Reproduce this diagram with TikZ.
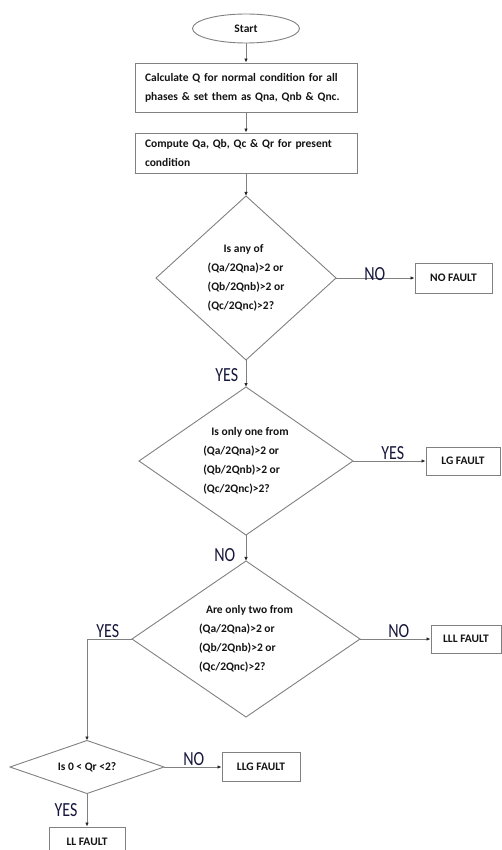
\documentclass[tikz,border=0pt]{standalone}
\usepackage{fontspec}
\setmainfont{Carlito}
\usetikzlibrary{shapes.geometric,arrows.meta}
\definecolor{linegray}{RGB}{128,128,128}
\definecolor{textgray}{RGB}{20,20,20}
\definecolor{labelblue}{RGB}{22,22,60}
\newcommand\tall[1]{\scalebox{1}[1.25]{#1}}

\begin{document}
\begin{tikzpicture}[x=1pt, y=-1pt,
	nodes={font=\bfseries\fontsize{11.5}{19}\selectfont, text=textgray},
	box/.style={draw=linegray, line width=0.9pt, rectangle, inner xsep=10pt, inner ysep=0pt, text width=202pt, align=left},
	result/.style={draw=linegray, line width=0.9pt, rectangle, inner sep=0pt, align=center},
	decision/.style={draw=linegray, line width=0.9pt, diamond, inner sep=0pt, outer sep=0pt, align=left},
	flow/.style={draw=linegray, line width=0.8pt, -{Latex[length=4pt,width=3.5pt,color=black!85]}},
	answer/.style={font=\fontsize{16}{16}\selectfont, text=labelblue, inner sep=0pt}]

\useasboundingbox (0,0) rectangle (502,850);

% start and the two steps
\node[ellipse, draw=linegray, line width=0.9pt, minimum width=107pt, minimum height=29pt, inner sep=0pt] (start) at (246,28.5) {Start};
\node[box, minimum height=49pt] (normal) at (246,87.5) {Calculate Q for normal condition for all\\phases \& set them as Qna, Qnb \& Qnc.};
\node[box, minimum height=40pt] (present) at (246,153) {Compute Qa, Qb, Qc \& Qr for present\\condition};

% decisions
\node[decision, aspect=1.1, minimum width=180pt, minimum height=164pt] (anyof) at (246,278) {\hspace*{16pt}Is any of\\(Qa/2Qna)>2 or\\(Qb/2Qnb)>2 or\\(Qc/2Qnc)>2?};
\node[decision, aspect=1.45, minimum width=214pt, minimum height=148pt] (onlyone) at (246,461) {\hspace*{8pt}Is only one from\\(Qa/2Qna)>2 or\\(Qb/2Qnb)>2 or\\(Qc/2Qnc)>2?};
\node[decision, aspect=1.46, minimum width=228pt, minimum height=156pt] (onlytwo) at (246,639) {\hspace*{7pt}Are only two from\\(Qa/2Qna)>2 or\\(Qb/2Qnb)>2 or\\(Qc/2Qnc)>2?};
\node[decision, aspect=2.9, minimum width=154pt, minimum height=53pt, align=center] (qrange) at (87,767) {Is 0 < Qr <2?};

% results
\node[result, minimum width=77pt, minimum height=30pt] (nofault) at (453.5,278) {NO FAULT};
\node[result, minimum width=74pt, minimum height=28pt] (lgfault) at (463,461) {LG FAULT};
\node[result, minimum width=70pt, minimum height=28pt] (lllfault) at (466,639) {LLL FAULT};
\node[result, minimum width=78pt, minimum height=29pt] (llgfault) at (261,767) {LLG FAULT};
\node[result, minimum width=76pt, minimum height=29pt] (llfault) at (87,841.5) {LL FAULT};

% connectors
\foreach \from/\to in {start/normal, normal/present, present/anyof, anyof/onlyone, onlyone/onlytwo,
	anyof/nofault, onlyone/lgfault, onlytwo/lllfault, qrange/llgfault, qrange/llfault}
	\draw[flow] (\from) -- (\to);
\draw[flow] (onlytwo.west) -| (qrange.north);

% yes / no
\foreach \name/\x/\y/\ans in {
	noA   / 373 / 274.5 / NO,
	yesA  / 225 / 375   / YES,
	yesB  / 391 / 453.5 / YES,
	noB   / 223 / 555   / NO,
	yesC  / 106 / 631   / YES,
	noC   / 397 / 631   / NO,
	noD   / 192 / 759   / NO,
	yesD  / 66  / 810   / YES
}
\node[answer] (\name) at (\x,\y) {\tall{\ans}};
\end{tikzpicture}
\end{document}
